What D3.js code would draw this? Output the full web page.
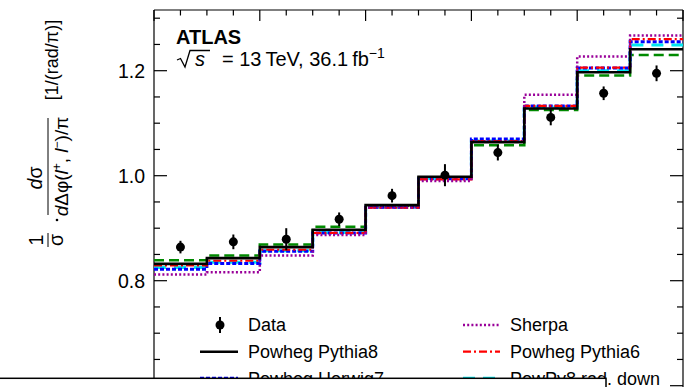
<!DOCTYPE html>
<html><head><meta charset="utf-8">
<script src="https://cdn.jsdelivr.net/npm/d3@7"></script>
<style>body{margin:0;background:#fff}svg{display:block;font-family:"Liberation Sans",Arial,sans-serif}</style>
</head><body>
<svg id="c" width="697" height="387"></svg>
<script>
// ---- data ----
const binEdges = [0, 0.1, 0.2, 0.3, 0.4, 0.5, 0.6, 0.7, 0.8, 0.9, 1.0];
const dataVals = [0.864, 0.874, 0.879, 0.917, 0.962, 1.001, 1.044, 1.111, 1.157, 1.195];
const dataErr  = [0.012, 0.014, 0.021, 0.013, 0.013, 0.021, 0.015, 0.015, 0.013, 0.015];
const powhegPythia8 = [0.832, 0.843, 0.864, 0.897, 0.944, 0.998, 1.064, 1.128, 1.197, 1.241];
const powhegHerwig7 = [0.822, 0.833, 0.856, 0.891, 0.940, 0.994, 1.070, 1.133, 1.205, 1.255];
const sherpa        = [0.812, 0.816, 0.848, 0.887, 0.940, 0.990, 1.065, 1.154, 1.227, 1.267];
const powhegPythia6 = [0.829, 0.838, 0.859, 0.891, 0.939, 0.993, 1.066, 1.133, 1.206, 1.260];
const powPy8RadDown = [0.825, 0.835, 0.857, 0.892, 0.940, 0.995, 1.066, 1.131, 1.200, 1.249];
const powPy8RadUp   = [0.839, 0.848, 0.869, 0.903, 0.943, 0.996, 1.058, 1.125, 1.191, 1.230];
const yTickLabels = [0.8, 1.0, 1.2];

const series = [
  {name: "PowPy8 rad. up", vals: powPy8RadUp, color: "#008a00", w: 2.5, dash: "10,5"},
  {name: "PowPy8 rad. down", vals: powPy8RadDown, color: "#00e8f0", w: 3, dash: "12,8"},
  {name: "Powheg Herwig7", vals: powhegHerwig7, color: "#0000ff", w: 3, dash: "4,2"},
  {name: "Powheg Pythia6", vals: powhegPythia6, color: "#ff0000", w: 2.2, dash: "8,3,2,3"},
  {name: "Sherpa", vals: sherpa, color: "#990099", w: 2.5, dash: "2,2.2"},
  {name: "Powheg Pythia8", vals: powhegPythia8, color: "#000000", w: 2.6, dash: null}
];

const svg = d3.select("#c");
const L = 154, R = 683, T = 10;
const x = d3.scaleLinear().domain([0, 1]).range([L, R]);
const y = d3.scaleLinear().domain([1.0, 1.2]).range([175.7, 70.7]);
const yBottom = y(0.55);

// frame
const fr = svg.append("g").attr("stroke", "#000").attr("stroke-width", 1.2).attr("fill", "none");
fr.append("line").attr("x1", L).attr("x2", L).attr("y1", T).attr("y2", yBottom);
fr.append("line").attr("x1", R).attr("x2", R).attr("y1", T).attr("y2", yBottom);
fr.append("line").attr("x1", L).attr("x2", R).attr("y1", T).attr("y2", T);

// y ticks (left, inward; right, inward)
const yMinor = d3.range(0.55, 1.316, 0.05).map(v => +v.toFixed(2));
const yMajor = [0.6, 0.8, 1.0, 1.2];
const isMaj = v => yMajor.some(m => Math.abs(m - v) < 1e-6);
const tk = svg.append("g").attr("stroke", "#000").attr("stroke-width", 1.2);
yMinor.forEach(v => {
  const len = isMaj(v) ? 13 : 6;
  tk.append("line").attr("x1", L).attr("x2", L + len).attr("y1", y(v)).attr("y2", y(v));
  tk.append("line").attr("x1", R).attr("x2", R - len).attr("y1", y(v)).attr("y2", y(v));
});
// top ticks
d3.range(0, 1.0001, 0.05).forEach(v => {
  const maj = Math.abs(v * 5 - Math.round(v * 5)) < 1e-6;
  const len = maj ? 11 : 5.5;
  tk.append("line").attr("x1", x(v)).attr("x2", x(v)).attr("y1", T).attr("y2", T + len);
});
// y tick labels
svg.append("g").selectAll("text").data(yTickLabels).join("text")
  .attr("x", 145).attr("y", d => y(d)).attr("dy", "0.36em")
  .attr("text-anchor", "end").attr("font-size", 19.5).text(d => d.toFixed(1));

// histograms
const stepLine = d3.line().x(d => x(d[0])).y(d => y(d[1]));
function stepPts(vals) {
  const p = [];
  vals.forEach((v, i) => { p.push([binEdges[i], v]); p.push([binEdges[i + 1], v]); });
  return p;
}
series.forEach(s => {
  svg.append("path").attr("d", stepLine(stepPts(s.vals)))
    .attr("fill", "none").attr("stroke", s.color).attr("stroke-width", s.w)
    .attr("stroke-dasharray", s.dash);
});

// data points
const centers = binEdges.slice(0, -1).map((e, i) => (e + binEdges[i + 1]) / 2);
const dg = svg.append("g");
dataVals.forEach((v, i) => {
  dg.append("line").attr("x1", x(centers[i])).attr("x2", x(centers[i]))
    .attr("y1", y(v - dataErr[i])).attr("y2", y(v + dataErr[i]))
    .attr("stroke", "#000").attr("stroke-width", 2);
  dg.append("circle").attr("cx", x(centers[i])).attr("cy", y(v)).attr("r", 4.5).attr("fill", "#000");
});

// ATLAS label
svg.append("text").attr("x", 176).attr("y", 44).attr("font-size", 20).attr("font-weight", "bold").text("ATLAS");
svg.append("path").attr("d", "M177,60 L180.5,58.5 L185,67 L190,50.5 L210,50.5")
  .attr("fill", "none").attr("stroke", "#000").attr("stroke-width", 1.3);
const en = svg.append("text").attr("y", 66).attr("font-size", 20);
en.append("tspan").attr("x", 195).attr("font-style", "italic").text("s");
en.append("tspan").attr("x", 222).text("= 13\u2009TeV, 36.1\u2009fb");
en.append("tspan").attr("dy", -8).attr("font-size", 14).text("\u22121");

// y-axis title
const yt = svg.append("g").attr("transform", "translate(48,240) rotate(-90)").attr("font-size", 19.5);
yt.append("text").attr("x", 0).attr("y", -5).attr("text-anchor", "middle").text("1");
yt.append("line").attr("x1", -7).attr("x2", 7).attr("y1", 0).attr("y2", 0).attr("stroke", "#000").attr("stroke-width", 1);
yt.append("text").attr("x", 0).attr("y", 15).attr("text-anchor", "middle").text("\u03c3");
yt.append("circle").attr("cx", 20).attr("cy", 9).attr("r", 1.3).attr("fill", "#000");
const num = yt.append("text").attr("x", 62).attr("y", -6).attr("text-anchor", "middle");
num.append("tspan").attr("font-style", "italic").text("d");
num.append("tspan").text("\u03c3");
yt.append("line").attr("x1", 25).attr("x2", 122).attr("y1", 0).attr("y2", 0).attr("stroke", "#000").attr("stroke-width", 1);
const den = yt.append("text").attr("x", 73.5).attr("y", 20).attr("text-anchor", "middle").attr("font-size", 19);
den.append("tspan").attr("font-style", "italic").text("d");
den.append("tspan").text("\u0394\u03c6(");
den.append("tspan").attr("font-style", "italic").text("l");
den.append("tspan").attr("dy", -7).attr("font-size", 12).text("+");
den.append("tspan").attr("dy", 7).text(", ");
den.append("tspan").attr("font-style", "italic").text("l");
den.append("tspan").attr("dy", -7).attr("font-size", 12).text("\u2212");
den.append("tspan").attr("dy", 7).text(")/\u03c0");
yt.append("text").attr("x", 180).attr("y", 10).attr("text-anchor", "middle").attr("font-size", 18).text("[1/(rad/\u03c0)]");

// legend
const lg = svg.append("g").attr("font-size", 18);
const rowY = [325, 351.7, 378.3];
function legLine(x1, x2, yy, s) {
  lg.append("line").attr("x1", x1).attr("x2", x2).attr("y1", yy).attr("y2", yy)
    .attr("stroke", s.color).attr("stroke-width", s.w).attr("stroke-dasharray", s.dash);
}
const byName = n => series.find(s => s.name === n);
// Data
lg.append("line").attr("x1", 220).attr("x2", 220).attr("y1", rowY[0] - 8).attr("y2", rowY[0] + 8).attr("stroke", "#000").attr("stroke-width", 2);
lg.append("circle").attr("cx", 220).attr("cy", rowY[0]).attr("r", 4.5).attr("fill", "#000");
const leftEntries = ["Data", "Powheg Pythia8", "Powheg Herwig7"];
const rightEntries = ["Sherpa", "Powheg Pythia6", "PowPy8 rad. down"];
leftEntries.forEach((n, i) => {
  if (i > 0) legLine(200, 238, rowY[i], byName(n));
  lg.append("text").attr("x", 248).attr("y", rowY[i]).attr("dy", "0.36em").text(n);
});
rightEntries.forEach((n, i) => {
  legLine(463, 500, rowY[i], byName(n));
  lg.append("text").attr("x", 510).attr("y", rowY[i]).attr("dy", "0.36em").text(n);
});

// overlapping white box at the bottom
svg.append("rect").attr("x", -5).attr("y", 378.3).attr("width", 611).attr("height", 30)
  .attr("fill", "#fff").attr("stroke", "#000").attr("stroke-width", 1.5);
</script>
</body></html>
